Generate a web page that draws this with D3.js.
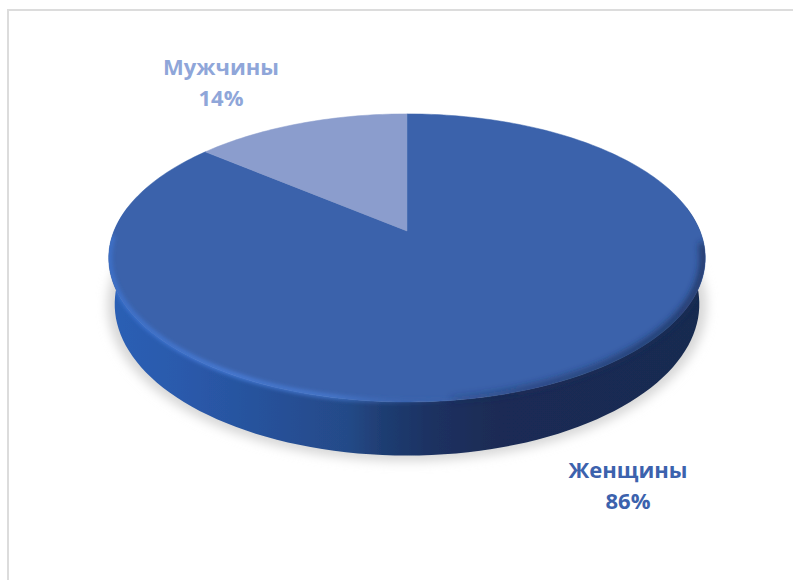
<!DOCTYPE html>
<html>
<head>
<meta charset="utf-8">
<script src="https://cdn.jsdelivr.net/npm/d3@7"></script>
<style>
html,body{margin:0;padding:0;background:#fff}
svg{display:block}
text{font-family:"Open Sans","Noto Sans",sans-serif;font-weight:700;font-size:22px;text-anchor:middle}
</style>
</head>
<body>
<svg id="chart" width="793" height="580"></svg>
<script>
const categories = ["Женщины", "Мужчины"];
const shares = [86, 14];
const sliceColors = ["#3a62ab", "#8b9dcd"];
const labelColors = ["#3c62ad", "#8fa6d9"];

const svg = d3.select("#chart");
const defs = svg.append("defs");

// Perspective view of a tilted disc: the far half of the circle is foreshortened.
const view = {cx: 407, cy: 231, rx: 293, s: 139, k: 0.187, depth: 45};
function project(a, r = 1, level = 0) {
  const u = r * Math.sin(a), v = r * Math.cos(a), w = 1 + view.k * v;
  const x = view.cx + view.rx * (1 - 0.02 * level) * u / w;
  const y = view.cy + view.depth * level - view.s * (1 + 0.05 * level) * v / w;
  return [x, y];
}
const line = d3.line();
const deg = d => d * Math.PI / 180;
const ring = (level, r = 1) => line(d3.range(0, 361, 2).map(d => project(deg(d), r, level))) + "Z";

const pie = d3.pie().sort(null).startAngle(0).endAngle(2 * Math.PI);
const arcs = pie(shares);

function slicePath(d) {
  const n = Math.ceil((d.endAngle - d.startAngle) / 0.02);
  const scale = d3.scaleLinear().domain([0, n]).range([d.startAngle, d.endAngle]);
  const pts = d3.range(n + 1).map(i => project(scale(i)));
  return line([project(0, 0), ...pts]) + "Z";
}

function addBlur(id, sd) {
  defs.append("filter").attr("id", id)
    .attr("x", "-10%").attr("y", "-10%").attr("width", "120%").attr("height", "120%")
    .append("feGaussianBlur").attr("stdDeviation", sd);
}
addBlur("soft", 5);
addBlur("bevelBlur", 2);
addBlur("darkBlur", 3.5);
addBlur("edge", 0.6);

function addGradient(id, stops) {
  const g = defs.append("linearGradient").attr("id", id)
    .attr("gradientUnits", "userSpaceOnUse")
    .attr("x1", 108).attr("x2", 705).attr("y1", 0).attr("y2", 0);
  stops.forEach(([o, c, a = 1]) => g.append("stop")
    .attr("offset", o).attr("stop-color", c).attr("stop-opacity", a));
}

// Background frame, running off the right and bottom edges of the page.
svg.append("path")
  .attr("d", "M8,580V10H793")
  .attr("fill", "none")
  .attr("stroke", "#dcdcdc")
  .attr("stroke-width", 2);

// Ground shadow under the disc.
svg.append("path")
  .attr("d", ring(1.02))
  .attr("transform", "translate(407,308) scale(1.025,1.03) translate(-407,-308)")
  .attr("fill", "#d6d6d6")
  .attr("filter", "url(#soft)");

// Side wall.
addGradient("side", [[0, "#2c5fb5"], [0.12, "#2a5aac"], [0.25, "#27529c"], [0.4, "#244a88"], [0.46, "#1f3d72"], [0.55, "#1b3060"], [0.65, "#1a2c55"], [1, "#192a50"]]);
const front = d3.range(-100, 101, 2).map(d => deg(180 + d));
const wallPath = line([...front.map(a => project(a, 1, 0)), ...front.slice().reverse().map(a => project(a, 1, 1))]) + "Z";
svg.append("path")
  .attr("d", wallPath)
  .attr("fill", "url(#side)").attr("filter", "url(#edge)");

// Slices of the top face.
svg.append("g").attr("filter", "url(#edge)")
  .selectAll("path").data(arcs).join("path")
  .attr("d", slicePath)
  .attr("fill", (d, i) => sliceColors[i])
  .attr("stroke", (d, i) => sliceColors[i])
  .attr("stroke-width", 0.5);

// The bevel shading stays inside the disc's silhouette.
const clip = defs.append("clipPath").attr("id", "discClip");
clip.append("path").attr("d", ring(0));
clip.append("path").attr("d", wallPath);
const bevel = svg.append("g").attr("clip-path", "url(#discClip)");

// Shaded bevel on the right of the front rim.
addGradient("rimDark", [[0.5, "#1a2d57", 0], [0.7, "#1a2d57", 0.6], [1, "#1a2d57", 1]]);
bevel.append("path")
  .attr("d", line(d3.range(95, 175, 2).map(d => project(deg(d), 0.995))))
  .attr("fill", "none")
  .attr("stroke", "url(#rimDark)")
  .attr("stroke-width", 6)
  .attr("filter", "url(#darkBlur)");

// Lit bevel on the left of the front rim.
addGradient("rimLit", [[0, "#3f76d4", 0.9], [0.2, "#4a80de", 1], [0.38, "#4a7fd8", 0.85], [0.5, "#3f6bb8", 0.3], [0.6, "#3a62ab", 0]]);
bevel.append("path")
  .attr("d", line(d3.range(268, 170, -2).map(d => project(deg(d), 0.997))))
  .attr("fill", "none")
  .attr("stroke", "url(#rimLit)")
  .attr("stroke-width", 4)
  .attr("filter", "url(#bevelBlur)");

// Category and share labels.
const labelSpots = [[628, 478], [221, 75]];
const labels = svg.selectAll("text.label").data(arcs).join("text")
  .attr("class", "label")
  .attr("fill", (d, i) => labelColors[i])
  .attr("x", (d, i) => labelSpots[i][0])
  .attr("y", (d, i) => labelSpots[i][1]);
labels.append("tspan").text((d, i) => categories[i]);
labels.append("tspan")
  .attr("x", (d, i) => labelSpots[i][0])
  .attr("dy", 31)
  .text(d => d.value + "%");
</script>
</body>
</html>
